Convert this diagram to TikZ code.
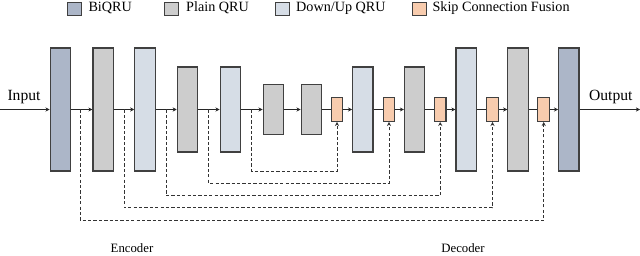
\documentclass[tikz,border=0pt]{standalone}
\usepackage{fontspec}
\setmainfont{Liberation Serif}
\usetikzlibrary{arrows.meta}
\definecolor{biqru}{RGB}{172,182,200}
\definecolor{plainqru}{RGB}{205,205,205}
\definecolor{dnupqru}{RGB}{214,221,230}
\definecolor{fusecol}{RGB}{248,204,174}
\definecolor{edgecol}{RGB}{64,64,64}
\newcommand{\Mainy}{109.5}

\begin{document}
\begin{tikzpicture}[x=0.03cm,y=-0.03cm,
  blk/.style={draw=edgecol,line width=1pt,minimum width=0.61cm,inner sep=0pt},
  biq/.style={blk,fill=biqru,minimum height=3.69cm},
  plt/.style={blk,fill=plainqru,minimum height=3.69cm},
  plm/.style={blk,fill=plainqru,minimum height=2.55cm},
  pls/.style={blk,fill=plainqru,minimum height=1.51cm},
  dut/.style={blk,fill=dnupqru,minimum height=3.69cm},
  dum/.style={blk,fill=dnupqru,minimum height=2.55cm},
  fuse/.style={blk,fill=fusecol,minimum width=0.35cm,minimum height=0.71cm},
  key/.style={draw=edgecol,line width=0.8pt,minimum width=0.42cm,minimum height=0.40cm,inner sep=0pt},
  flow/.style={draw=black!85,line width=0.8pt},
  into/.style={flow,-{Stealth[length=3.5pt,width=3.5pt]}},
  skip/.style={draw=black!80,line width=0.8pt,dash pattern=on 2.8pt off 1.8pt,-{Stealth[length=3.5pt,width=3.5pt]}},
  lab/.style={inner sep=0pt,font=\fontsize{12.1}{14}\selectfont}]
\useasboundingbox (0,0) rectangle (640,256);

% legend
\node[key,fill=biqru] (k1) at (74.8,9) {};
\node[lab,anchor=base west] (t1) at (88.3,12) {BiQRU};
\node[key,fill=plainqru] (k2) at (171.5,9) {};
\node[lab,anchor=base west] (t2) at (186,12) {Plain QRU};
\node[key,fill=dnupqru] (k3) at (282,9) {};
\node[lab,anchor=base west] (t3) at (296,12) {Down/Up QRU};
\node[key,fill=fusecol] (k4) at (419.2,9) {};
\node[lab,anchor=base west] (t4) at (432.3,12) {Skip Connection Fusion};

% encoder
\node[biq] (bi1) at (60.3,\Mainy) {};
\node[plt] (pl1) at (103.2,\Mainy) {};
\node[dut] (du1) at (145,\Mainy) {};
\node[plm] (pl2) at (187.5,\Mainy) {};
\node[dum] (du2) at (230.3,\Mainy) {};
\node[pls] (pl3) at (273.3,\Mainy) {};
\node[pls] (pl4) at (311.3,\Mainy) {};
% decoder
\node[fuse] (fu1) at (337,\Mainy) {};
\node[dum] (du3) at (362.8,\Mainy) {};
\node[fuse] (fu2) at (389,\Mainy) {};
\node[plm] (pl5) at (414.7,\Mainy) {};
\node[fuse] (fu3) at (440.2,\Mainy) {};
\node[dut] (du4) at (466.2,\Mainy) {};
\node[fuse] (fu4) at (492.5,\Mainy) {};
\node[plt] (pl6) at (518,\Mainy) {};
\node[fuse] (fu5) at (543.7,\Mainy) {};
\node[biq] (bi2) at (568.8,\Mainy) {};

\coordinate (in) at (0,\Mainy);
\coordinate (out) at (640,\Mainy);
\node[lab,font=\fontsize{13.3}{15}\selectfont,anchor=base] (inlab) at (24,100) {Input};
\node[lab,font=\fontsize{13.3}{15}\selectfont,anchor=base] (outlab) at (610.8,100) {Output};
\node[lab,font=\fontsize{10.9}{13}\selectfont,anchor=base] (enc) at (132,252.5) {Encoder};
\node[lab,font=\fontsize{10.9}{13}\selectfont,anchor=base] (dec) at (463,252.5) {Decoder};

\foreach \a/\b in {in/bi1,bi1/pl1,pl1/du1,du1/pl2,pl2/du2,du2/pl3,pl3/pl4,fu1/du3,fu2/pl5,fu3/du4,fu4/pl6,fu5/bi2,bi2/out}
  \draw[into] (\a) -- (\b);
\foreach \a/\b in {pl4/fu1,du3/fu2,pl5/fu3,du4/fu4,pl6/fu5}
  \draw[flow] (\a) -- (\b);

% skip connections
\coordinate (s1) at (80.7,\Mainy);
\coordinate (s2) at (124,\Mainy);
\coordinate (s3) at (166,\Mainy);
\coordinate (s4) at (208.5,\Mainy);
\coordinate (s5) at (251.7,\Mainy);
\foreach \s/\f/\d in {s1/fu5/111.2,s2/fu4/98.2,s3/fu3/86.2,s4/fu2/73.8,s5/fu1/61.5}
  \draw[skip] (\s) -- ++(0,\d) -| (\f.south);
\end{tikzpicture}
\end{document}
